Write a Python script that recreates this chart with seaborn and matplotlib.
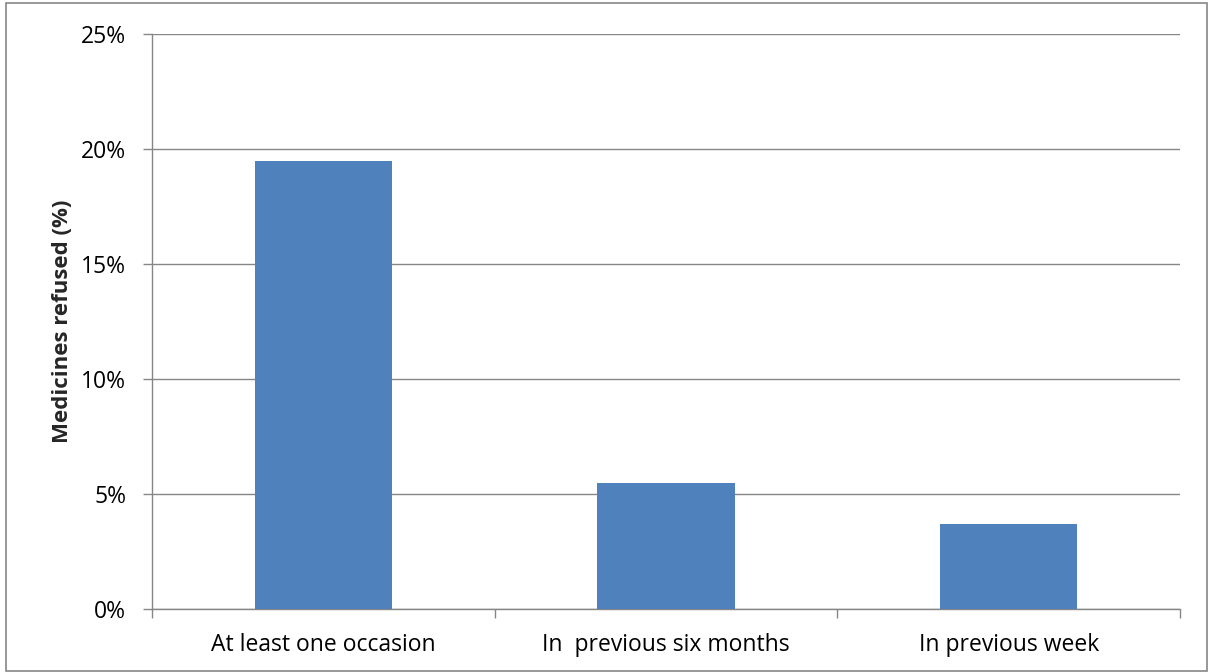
import matplotlib
matplotlib.use('Agg')
import matplotlib.pyplot as plt
import seaborn as sns
import pandas as pd
from matplotlib.ticker import PercentFormatter, FixedLocator
from matplotlib.patches import Rectangle

# Data
categories = ['At least one occasion', 'In  previous six months', 'In previous week']
refused_pct = [19.5, 5.5, 3.7]
ytick_values = [0, 5, 10, 15, 20, 25]

df = pd.DataFrame({'categorie': categories, 'refused': refused_pct})

sns.set_theme(style='white')
plt.rcParams['font.family'] = ['Open Sans', 'DejaVu Sans']

fig = plt.figure(figsize=(12.08, 6.72), dpi=100)
ax = fig.add_axes([152 / 1208, 1 - 609 / 672, (1180 - 152) / 1208, (609 - 34) / 672])

grid_col = '#868686'
sns.barplot(data=df, x='categorie', y='refused', color='#4F81BD', saturation=1,
            width=0.4, linewidth=0, ax=ax, zorder=3)

ax.set_xlim(-0.5, 2.5)
ax.set_ylim(0, 25)
ax.set_yticks(ytick_values)
ax.yaxis.set_major_formatter(PercentFormatter(decimals=0))
ax.grid(axis='y', color=grid_col, linewidth=1, zorder=0)
ax.set_axisbelow(True)

for s in ['top', 'right']:
    ax.spines[s].set_visible(False)
for s in ['left', 'bottom']:
    ax.spines[s].set_color(grid_col)
    ax.spines[s].set_linewidth(1)

ax.tick_params(axis='y', which='major', left=True, length=6.5, width=1, color=grid_col,
               labelsize=16.5, pad=12, labelcolor='black')
ax.tick_params(axis='x', which='major', bottom=False, length=0, labelsize=16.5, pad=17,
               labelcolor='black')
ax.xaxis.set_minor_locator(FixedLocator([-0.5, 0.5, 1.5, 2.5]))
ax.tick_params(axis='x', which='minor', bottom=True, length=6.5, width=1, color=grid_col)

ax.set_xlabel('')
ax.set_ylabel('Medicines refused (%)', fontsize=16, fontweight='bold', labelpad=6)

# outer chart border
fig.patches.append(Rectangle((6 / 1208, 0.002), 1 - 7 / 1208, 1 - 3 / 672 - 0.002,
                             transform=fig.transFigure, fill=False,
                             edgecolor='#868686', linewidth=1.2))

fig.savefig('out.png', dpi=100)
